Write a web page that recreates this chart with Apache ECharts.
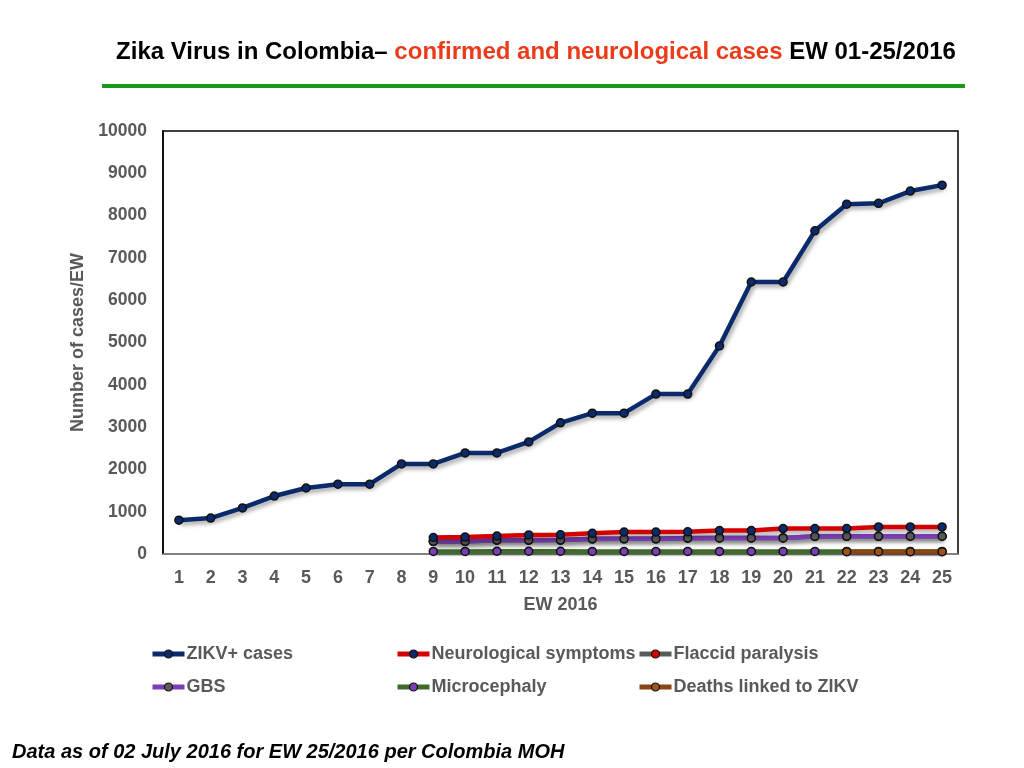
<!DOCTYPE html>
<html>
<head>
<meta charset="utf-8">
<script src="https://cdn.jsdelivr.net/npm/echarts@6/dist/echarts.min.js"></script>
<style>html,body{margin:0;padding:0;background:#fff}#c{width:1024px;height:768px}</style>
</head>
<body>
<div id="c"></div>
<script>
var weeks = ['1','2','3','4','5','6','7','8','9','10','11','12','13','14','15','16','17','18','19','20','21','22','23','24','25'];
var zikv = [800, 850, 1090, 1370, 1560, 1650, 1650, 2130, 2130, 2390, 2390, 2650, 3100, 3330, 3330, 3780, 3780, 4920, 6430, 6430, 7640, 8270, 8290, 8580, 8720];
var neuro = [null,null,null,null,null,null,null,null, 390, 400, 425, 450, 455, 490, 520, 520, 525, 555, 555, 600, 600, 600, 640, 640, 640];
var flaccid = [null,null,null,null,null,null,null,null, 295, 298, 325, 328, 330, 355, 358, 358, 375, 378, 378, 380, 415, 418, 418, 420, 420];
var gbs = [null,null,null,null,null,null,null,null, 300, 300, 330, 330, 330, 360, 360, 360, 380, 380, 380, 380, 420, 420, 420, 420, 420];
var micro = [null,null,null,null,null,null,null,null, 60, 60, 65, 65, 65, 60, 60, 60, 60, 60, 60, 60, 60, 60, 60, 60, 60];
var deaths = [null,null,null,null,null,null,null,null,null,null,null,null,null,null,null,null,null,null,null,null,null, 55, 55, 55, 55];
var yTicks = [0, 1000, 2000, 3000, 4000, 5000, 6000, 7000, 8000, 9000, 10000];

var chart = echarts.init(document.getElementById('c'));
var shadow = {shadowColor:'rgba(0,0,0,0.35)', shadowBlur:4, shadowOffsetX:2, shadowOffsetY:3};
function mk(name, data, lineColor, markColor, z){
  return {
    name: name, type:'line', data:data, z:z,
    symbol:'circle', symbolSize:8,
    itemStyle:{color:markColor, borderColor:'#111', borderWidth:1.5},
    lineStyle:Object.assign({color:lineColor, width:4.5}, shadow),
    emphasis:{disabled:true}, animation:false
  };
}
var font = '"Liberation Sans", Arial, sans-serif';
var legTxt = {color:'#595959', fontSize:18, fontWeight:'bold', fontFamily:font, padding:[0,0,0,-3]};
function leg(name, left, top){
  return {data:[name], left:left, top:top, itemWidth:32, itemHeight:10, itemGap:0, textStyle:legTxt, padding:0, selectedMode:false,
    lineStyle:{width:5, shadowBlur:0, shadowOffsetX:0, shadowOffsetY:0}, itemStyle:{borderWidth:1.2}};
}
chart.setOption({
  backgroundColor:'#fff',
  textStyle:{fontFamily:font},
  title:[{
    text:'{a|Zika Virus in Colombia– }{b|confirmed and neurological cases}{a| EW 01-25/2016}',
    left:531, top:35, textAlign:'center',
    textStyle:{rich:{
      a:{fontSize:24, fontWeight:'bold', color:'#000', fontFamily:font},
      b:{fontSize:24, fontWeight:'bold', color:'#ea3b1a', fontFamily:font}
    }}
  },{
    text:'Data as of 02 July 2016 for EW 25/2016 per Colombia MOH',
    left:7, top:737,
    textStyle:{fontSize:20, fontWeight:'bold', fontStyle:'italic', color:'#000', fontFamily:font}
  }],
  graphic:[{type:'rect', shape:{x:102, y:84, width:863, height:4}, style:{fill:'#1a9a1a'}}],
  legend:[
    leg('ZIKV+ cases',150,645), leg('Neurological symptoms',395,645), leg('Flaccid paralysis',637,645),
    leg('GBS',150,678), leg('Microcephaly',395,678), leg('Deaths linked to ZIKV',637,678)
  ],
  grid:{left:163, right:66, top:131, bottom:214, show:true, borderColor:'#000', borderWidth:1.5, backgroundColor:'transparent'},
  xAxis:{
    type:'category', data:weeks, boundaryGap:true,
    name:'EW 2016', nameLocation:'middle', nameGap:42,
    nameTextStyle:{color:'#595959', fontSize:18, fontWeight:'bold'},
    axisLine:{lineStyle:{color:'#999', width:1.5}}, axisTick:{show:false},
    axisLabel:{color:'#595959', fontSize:18, fontWeight:'bold', margin:15, interval:0}
  },
  yAxis:{
    type:'value', min:0, max:10000, interval:1000,
    name:'Number of cases/EW', nameLocation:'middle', nameGap:72,
    nameTextStyle:{color:'#595959', fontSize:18, fontWeight:'bold'},
    axisLine:{show:true, lineStyle:{color:'#000', width:1.5}}, axisTick:{show:false},
    splitLine:{show:false},
    axisLabel:{color:'#595959', fontSize:17.5, fontWeight:'bold', margin:16,
      formatter:function(v){return yTicks.indexOf(v)>=0 ? String(v) : '';}}
  },
  series:[
    mk('ZIKV+ cases', zikv, '#0b2a6b', '#0b2a6b', 10),
    mk('Neurological symptoms', neuro, '#d40000', '#0b2a6b', 9),
    mk('Flaccid paralysis', flaccid, '#5a5a5a', '#d40000', 6),
    mk('GBS', gbs, '#7a3fb5', '#5a5a5a', 7),
    mk('Microcephaly', micro, '#3f6b2a', '#7a3fb5', 5),
    mk('Deaths linked to ZIKV', deaths, '#8b4513', '#a0521d', 8)
  ]
});
</script>
</body>
</html>
